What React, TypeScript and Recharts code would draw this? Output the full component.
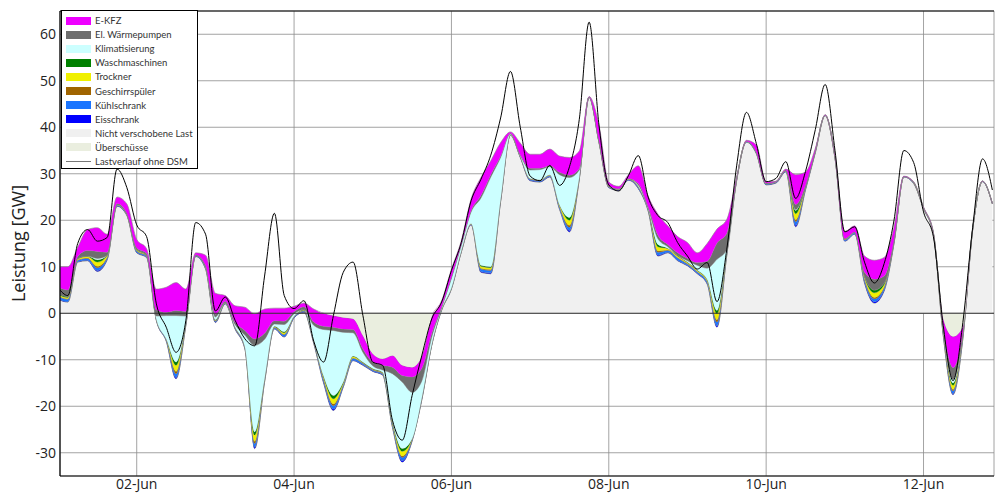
import {
  ComposedChart,
  Area,
  Line,
  XAxis,
  YAxis,
  CartesianGrid,
  ReferenceLine,
} from "recharts";

// 3-hour steps starting 01-Jun 00:00
const STEP_H = 3;

const nichtVerschoben = [
  3, 2.4, 11, 11.3, 9, 11.5, 23, 21, 13, 12,
  -1.6, -6, -14.1, -2.6, 12.2, 9.5, -2, 2, -3.4, -7.7,
  -29.1, -14.8, -3.4, -5.1, -1, 0.2, -6.5, -15, -20.9, -15.9,
  -10.2, -11.2, -12.5, -13.3, -24.5, -32, -27.5, -18.5, -6.9, 0.6,
  5.2, 13.1, 19, 8.8, 8.5, 24, 38.3, 33.5, 28.5, 28.2,
  29.3, 22.3, 17.5, 28.8, 46.4, 36.7, 27, 26.4, 28.6, 26.8,
  22, 12.3, 13, 11.3, 10.2, 8.5, 6.3, -3, 12.5, 28.5,
  36.8, 34.3, 27.6, 28, 30.4, 18.6, 26.5, 34.5, 42.5, 33.3,
  15.5, 17, 6.5, 2.2, 4.8, 15, 29.3, 27.9, 22.5, 17,
  -4.7, -17.5, -5.5, 18, 28.3, 23.5,
];

const eisschrank = [
  0.1, 0.1, 0.1, 0.1, 0.2, 0.1, 0.1, 0.1, 0.1, 0.1,
  0.1, 0.1, 0.3, 0.1, 0.1, 0.1, 0.1, 0.1, 0.1, 0.1,
  0.3, 0.1, 0.1, 0.1, 0.1, 0.1, 0.1, 0.2, 0.3, 0.1,
  0.1, 0.1, 0.1, 0.1, 0.1, 0.3, 0.1, 0.1, 0.1, 0.1,
  0.1, 0.1, 0.1, 0.2, 0.2, 0.1, 0, 0.1, 0.1, 0.1,
  0.1, 0.1, 0.3, 0.1, 0, 0.1, 0.1, 0.1, 0.1, 0.1,
  0.1, 0.2, 0.1, 0.1, 0.1, 0.1, 0.1, 0.3, 0.1, 0.1,
  0, 0.1, 0.1, 0.1, 0.1, 0.3, 0.1, 0.1, 0, 0.1,
  0.1, 0.1, 0.2, 0.3, 0.2, 0.1, 0, 0, 0, 0,
  0.1, 0.2, 0.1, 0, 0, 0,
];

const kuehlschrank = [
  0.5, 0.5, 0.3, 0.4, 0.6, 0.4, 0.2, 0.1, 0.3, 0.2,
  0.1, 0.2, 0.8, 0.2, 0.1, 0.2, 0.2, 0.1, 0.2, 0.2,
  0.8, 0.3, 0.2, 0.4, 0.2, 0.2, 0.2, 0.5, 0.7, 0.4,
  0.4, 0.3, 0.2, 0.2, 0.4, 0.7, 0.2, 0.2, 0.1, 0.1,
  0.1, 0.1, 0.1, 0.5, 0.5, 0.2, 0.1, 0.1, 0.2, 0.2,
  0.2, 0.4, 0.7, 0.2, 0.1, 0.1, 0.1, 0.1, 0.1, 0.2,
  0.2, 0.6, 0.4, 0.5, 0.3, 0.3, 0.4, 0.8, 0.3, 0.1,
  0.1, 0.1, 0.1, 0.1, 0.1, 0.8, 0.3, 0.2, 0.1, 0.1,
  0.2, 0.2, 0.5, 0.6, 0.5, 0.2, 0.1, 0.1, 0.1, 0.1,
  0.4, 0.6, 0.4, 0.1, 0.1, 0.1,
];

const geschirrspueler = [
  0.1, 0.1, 0.1, 0.1, 0.3, 0.1, 0, 0, 0.1, 0.1,
  0, 0.1, 0.5, 0.1, 0, 0.1, 0.1, 0, 0.1, 0.1,
  0.5, 0.1, 0.1, 0.1, 0, 0.1, 0.1, 0.2, 0.4, 0.1,
  0.1, 0.1, 0.1, 0.1, 0.1, 0.3, 0.1, 0.1, 0, 0,
  0, 0, 0, 0.2, 0.2, 0.1, 0, 0, 0.1, 0.1,
  0.1, 0.1, 0.4, 0.1, 0, 0, 0, 0, 0, 0.1,
  0.1, 0.3, 0.1, 0.1, 0.1, 0.1, 0.1, 0.5, 0.1, 0,
  0, 0, 0, 0, 0, 0.4, 0.1, 0, 0, 0,
  0.1, 0, 0.2, 0.3, 0.2, 0.1, 0, 0, 0, 0,
  0.1, 0.3, 0.1, 0, 0, 0,
];

const trockner = [
  0.3, 0.3, 0.2, 0.3, 0.9, 0.3, 0.1, 0.1, 0.2, 0.1,
  0.1, 0.1, 1.3, 0.1, 0.1, 0.1, 0.1, 0.1, 0.1, 0.1,
  1.3, 0.1, 0.1, 0.3, 0.1, 0.1, 0.1, 0.4, 1.1, 0.3,
  0.3, 0.1, 0.1, 0.1, 0.3, 1.0, 0.1, 0.1, 0.1, 0.1,
  0.1, 0.1, 0.1, 0.4, 0.4, 0.1, 0.1, 0.1, 0.1, 0.1,
  0.1, 0.3, 1.1, 0.1, 0, 0.1, 0.1, 0.1, 0.1, 0.1,
  0.1, 0.9, 0.3, 0.3, 0.2, 0.2, 0.3, 1.3, 0.1, 0.1,
  0.1, 0.1, 0.1, 0.1, 0.1, 1.3, 0.1, 0.1, 0, 0.1,
  0.1, 0.1, 0.4, 1.0, 0.5, 0.1, 0, 0.1, 0.1, 0.1,
  0.3, 0.9, 0.3, 0, 0, 0,
];

const waschmaschinen = [
  0.2, 0.2, 0.1, 0.1, 0.5, 0.1, 0, 0, 0.1, 0.1,
  0, 0, 0.7, 0, 0, 0, 0.1, 0, 0, 0,
  0.7, 0.1, 0.1, 0.2, 0, 0.1, 0, 0.2, 0.7, 0.2,
  0.1, 0.1, 0.1, 0.1, 0.2, 0.6, 0, 0, 0, 0,
  0, 0, 0, 0.2, 0.2, 0, 0, 0, 0, 0,
  0, 0.1, 0.6, 0, 0, 0, 0, 0, 0, 0,
  0, 0.5, 0.1, 0.2, 0.1, 0.1, 0.1, 0.7, 0.1, 0,
  0, 0, 0, 0, 0, 0.7, 0.1, 0, 0, 0,
  0, 0, 0.2, 0.6, 0.3, 0, 0, 0, 0, 0,
  0.1, 0.5, 0.1, 0, 0, 0,
];

const klimatisierung = [
  0, 0, 0, 0, 0.3, 0, 0, 0, 0, 0,
  0.7, 5, 10, 1.5, 0, 0, 0.6, 0, 0.5, 2.5,
  18.6, 8.5, 0.5, 1.6, 0.5, 0, 3.4, 10, 14, 10.7,
  5, 2.1, 0.6, 0.5, 10.4, 14.3, 10, 3.5, 1.5, 0.3,
  2, 1.2, 2.5, 14.5, 19.3, 9, 0.1, 0.2, 1.8, 2.2,
  1.7, 6.5, 8.6, 1.5, 0, 0, 0, 0, 0, 0.3,
  0.2, 1.2, 0.3, 0, 0.3, 1, 2.4, 11, 0.5, 0,
  0, 0, 0, 0, 0, 0.2, 0, 0, 0, 0,
  0, 0, 0, 0, 0, 0, 0, 0, 0, 0,
  0.3, 0.8, 0, 0, 0, 0,
];

const waermepumpen = [
  1.5, 1.4, 0.4, 1.2, 1.5, 0.6, 0.2, 0.2, 0.3, 0.3,
  1.3, 0.7, 1.1, 1, 0.1, 0.3, 0.6, 0.3, 0.5, 1,
  1.4, 1.3, 0.7, 0.7, 0.4, 0.6, 0.7, 0.7, 0.7, 0.7,
  0.7, 0.7, 0.8, 1, 1.4, 1.4, 3.3, 2.7, 0.8, 0.2,
  0.3, 0.2, 0.3, 0.5, 0.5, 0.3, 0.1, 0.1, 0.4, 0.3,
  0.3, 0.5, 0.5, 0.3, 0, 0.2, 0.2, 0.1, 0.1, 0.3,
  0.2, 0.8, 0.5, 0.5, 0.5, 0.6, 1.5, 3.5, 3.5, 0.1,
  0, 0.1, 0.1, 0, 0.1, 1.1, 0.3, 0.1, 0, 0.1,
  0.1, 0.1, 0.8, 2.3, 1.5, 0.3, 0, 0.1, 0.1, 0.1,
  0.8, 2.5, 0.6, 0.1, 0, 0,
];

const eKfz = [
  4.3, 5, 2, 4.5, 5.1, 3.9, 1.4, 2, 1.8, 1,
  4.5, 5.4, 6, 4.8, 0.4, 2.2, 4.5, 1.2, 3.5, 5,
  5.4, 5.2, 2.7, 2.8, 1.2, 0.8, 2.8, 2.8, 2.5, 2.5,
  2.3, 2.9, 1.8, 1.4, 2.5, 2.2, 2.1, 2.6, 3.6, 1.3,
  1.7, 0.8, 2.5, 3.9, 3, 2.9, 0.3, 2.5, 3, 3,
  3.5, 3.5, 3.8, 3.8, 0.1, 3.3, 0.7, 0.5, 0.8, 3.8,
  2.3, 4.5, 4, 3.5, 3.4, 2.1, 3.8, 3, 3, 0.3,
  0.2, 1.5, 0.3, 0.1, 0.2, 6.4, 2.9, 0.5, 0.1, 0.4,
  1.5, 1.3, 3.5, 4.1, 4, 2.7, 0.1, 0.1, 0.1, 0.2,
  1.5, 6.7, 1, 0.1, 0.05, 0.1,
];

const ohneDsm = [
  5.5, 3.8, 15, 18, 15.5, 16.3, 31, 27, 19, 16.5,
  2, -3, -8.4, -1.5, 19.5, 17, 0.5, 3.5, -1.5, -5.5,
  -7, 8, 21.5, 3.8, 1, 2.7, -6, -10.5, -0.5, 8.8,
  11, -0.5, -10.5, -11.2, -23, -27.3, -17.7, -9, -1.2, 2.4,
  9.2, 15.2, 24.2, 28.8, 34, 42, 52, 40, 29.5, 28.5,
  31.8, 27.5, 31.5, 41.7, 62.6, 40.5, 27.6, 26.3, 29.6, 33.9,
  25, 21, 19.5, 15.2, 12.3, 9.5, 10.9, 2.5, 13.8, 31.7,
  43.2, 36.5, 28.3, 29, 32.6, 24.7, 30.5, 39.5, 49.2, 35,
  17.5, 18.6, 11, 6.5, 10.7, 20, 35, 32.4, 21.8, 16.5,
  -2.6, -14.5, -2, 18.5, 33.2, 26.5,
];

const dayTicks = [24, 72, 120, 168, 216, 264];
const dayLabels = ["02-Jun", "04-Jun", "06-Jun", "08-Jun", "10-Jun", "12-Jun"];
const yTicks = [-30, -20, -10, 0, 10, 20, 30, 40, 50, 60];

const FONT = "'Open Sans', 'Noto Sans', sans-serif";

const SERIES = [
  { key: "base", name: "Nicht verschobene Last", color: "#f0f0f0" },
  { key: "eis", name: "Eisschrank", color: "#0000ff" },
  { key: "kuehl", name: "Kühlschrank", color: "#1a75ff" },
  { key: "gesch", name: "Geschirrspüler", color: "#a06400" },
  { key: "trock", name: "Trockner", color: "#f0f000" },
  { key: "wasch", name: "Waschmaschinen", color: "#008000" },
  { key: "klima", name: "Klimatisierung", color: "#ccffff" },
  { key: "wp", name: "El. Wärmepumpen", color: "#6e6e6e" },
  { key: "ekfz", name: "E-KFZ", color: "#ee00ff" },
  { key: "surplus", name: "Überschüsse", color: "#eaeedf" },
];

const LEGEND_ORDER = [
  "ekfz", "wp", "klima", "wasch", "trock", "gesch", "kuehl", "eis", "base", "surplus",
];

const rows = nichtVerschoben.map((b, i) => {
  const top =
    b + eisschrank[i] + kuehlschrank[i] + geschirrspueler[i] + trockner[i] +
    waschmaschinen[i] + klimatisierung[i] + waermepumpen[i] + eKfz[i];
  return {
    h: i * STEP_H,
    base: b,
    eis: eisschrank[i],
    kuehl: kuehlschrank[i],
    gesch: geschirrspueler[i],
    trock: trockner[i],
    wasch: waschmaschinen[i],
    klima: klimatisierung[i],
    wp: waermepumpen[i],
    ekfz: eKfz[i],
    surplus: top < 0 ? -top : 0,
    line: ohneDsm[i],
  };
});

function LegendBox() {
  return (
    <div
      style={{
        position: "absolute",
        left: 61,
        top: 10,
        width: 135,
        height: 157,
        border: "1px solid #000",
        background: "#fff",
        fontFamily: "Lato, 'Open Sans', sans-serif",
        fontSize: 9.5,
        color: "#333",
      }}
    >
      {LEGEND_ORDER.map((k, idx) => {
        const s = SERIES.find((x) => x.key === k)!;
        return (
          <div
            key={k}
            style={{ position: "absolute", left: 4, top: 4 + idx * 14.1, height: 11, display: "flex", alignItems: "center" }}
          >
            <div style={{ width: 25, height: 8, background: s.color, marginRight: 4 }} />
            <span style={{ whiteSpace: "nowrap" }}>{s.name}</span>
          </div>
        );
      })}
      <div style={{ position: "absolute", left: 4, top: 4 + 10 * 14.1, height: 11, display: "flex", alignItems: "center" }}>
        <div style={{ width: 25, height: 0, borderTop: "1.5px solid #777", marginRight: 4 }} />
        <span style={{ whiteSpace: "nowrap" }}>Lastverlauf ohne DSM</span>
      </div>
    </div>
  );
}

export default function App() {
  return (
    <div style={{ position: "absolute", left: 0, top: 0, width: 995, height: 495, background: "#fff" }}>
      <ComposedChart
        width={995}
        height={495}
        data={rows}
        margin={{ top: 11, right: 1, bottom: 0, left: 0 }}
      >
        <XAxis
          type="number"
          dataKey="h"
          domain={[0.6, 285.5]}
          allowDataOverflow
          ticks={dayTicks}
          tickFormatter={(v) => dayLabels[dayTicks.indexOf(v)]}
          tickLine={false}
          tickSize={0}
          tickMargin={3}
          height={19}
          axisLine={{ stroke: "#000", strokeWidth: 1.2 }}
          tick={{ fill: "#222", fontSize: 14, fontFamily: FONT }}
        />
        <YAxis
          type="number"
          domain={[-35, 65]}
          allowDataOverflow
          ticks={yTicks}
          width={60}
          tickLine={false}
          tickSize={0}
          tickMargin={4}
          axisLine={{ stroke: "#000", strokeWidth: 1.2 }}
          tick={{ fill: "#222", fontSize: 14, fontFamily: FONT }}
          label={{
            value: "Leistung [GW]",
            angle: -90,
            position: "insideLeft",
            offset: 19,
            style: { textAnchor: "middle", fill: "#222", fontSize: 18, fontFamily: FONT },
          }}
        />
        {SERIES.map((s) => (
          <Area
            key={s.key}
            type="monotone"
            dataKey={s.key}
            name={s.name}
            stackId="dsm"
            fill={s.color}
            fillOpacity={1}
            stroke={s.key === "surplus" ? "none" : "#8a8a8a"}
            strokeWidth={s.key === "base" ? 1 : 0.6}
            dot={false}
            activeDot={false}
            isAnimationActive={false}
          />
        ))}
        <CartesianGrid stroke="#8c8c8c" strokeWidth={0.8} />
        <ReferenceLine y={0} stroke="#333" strokeWidth={1} />
        <ReferenceLine y={65} stroke="#000" strokeWidth={1.2} />
        <Line
          type="monotone"
          dataKey="line"
          name="Lastverlauf ohne DSM"
          stroke="#000"
          strokeWidth={1}
          dot={false}
          activeDot={false}
          isAnimationActive={false}
        />
      </ComposedChart>
      <LegendBox />
    </div>
  );
}
